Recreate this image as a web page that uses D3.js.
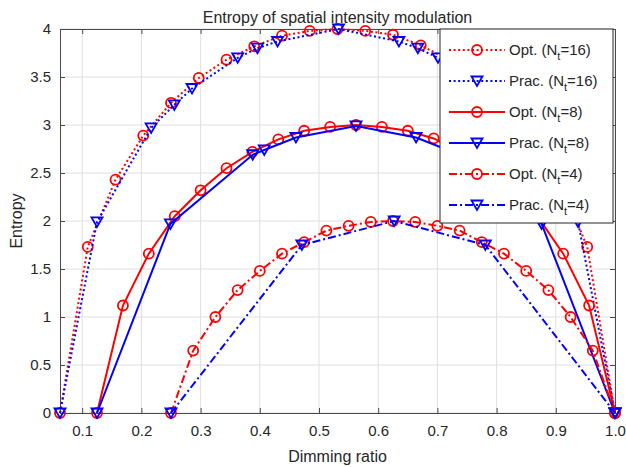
<!DOCTYPE html>
<meta charset="utf-8">
<style>
    body { margin: 0; background: #fff; }
    text { font-family: "Liberation Sans", Arial, sans-serif; fill: #262626; }
</style>
<body>
<script src="https://d3js.org/d3.v7.min.js"></script>
<svg width="626" height="467"></svg>
<script>
    // data
    var opt16X = [0.0625, 0.1094, 0.1563, 0.2031, 0.25, 0.2969, 0.3438, 0.3906, 0.4375, 0.4844, 0.5313,
                  0.5781, 0.625, 0.6719, 0.7188, 0.7656, 0.8125, 0.8594, 0.9063, 0.9531, 1.0];
    var opt16Y = [0, 1.73, 2.43, 2.89, 3.23, 3.49, 3.68, 3.82, 3.93, 3.98, 4.0,
                  3.98, 3.94, 3.83, 3.68, 3.49, 3.23, 2.89, 2.43, 1.73, 0];
    var prac16X = [0.0625, 0.125, 0.2164, 0.2556, 0.2855, 0.3626, 0.396, 0.43, 0.533,
                   0.635, 0.667, 0.701, 0.778, 0.808, 0.847, 0.9375, 1.0];
    var prac16Y = [0, 1.99, 2.97, 3.21, 3.38, 3.70, 3.80, 3.87, 4.0,
                   3.87, 3.80, 3.70, 3.38, 3.21, 2.97, 1.99, 0];
    var opt8X = [0.125, 0.1688, 0.2125, 0.2563, 0.3, 0.3438, 0.3875, 0.4313, 0.475, 0.5188, 0.5625,
                 0.6063, 0.65, 0.6938, 0.7375, 0.7813, 0.825, 0.8688, 0.9125, 0.9563, 1.0];
    var opt8Y = [0, 1.12, 1.66, 2.05, 2.32, 2.55, 2.72, 2.85, 2.94, 2.98, 3.0,
                 2.98, 2.94, 2.86, 2.72, 2.55, 2.32, 2.05, 1.66, 1.12, 0];
    var prac8X = [0.125, 0.249, 0.388, 0.4075, 0.461, 0.5625, 0.664, 0.7175, 0.737, 0.876, 1.0];
    var prac8Y = [0, 1.97, 2.69, 2.74, 2.87, 2.99, 2.87, 2.74, 2.69, 1.97, 0];
    var opt4X = [0.25, 0.2875, 0.325, 0.3625, 0.4, 0.4375, 0.475, 0.5125, 0.55, 0.5875, 0.625,
                 0.6625, 0.7, 0.7375, 0.775, 0.8125, 0.85, 0.8875, 0.925, 0.9625, 1.0];
    var opt4Y = [0, 0.65, 1.0, 1.28, 1.48, 1.66, 1.78, 1.9, 1.95, 1.99, 2.0,
                 1.99, 1.95, 1.9, 1.78, 1.66, 1.48, 1.28, 1.0, 0.65, 0];
    var prac4X = [0.25, 0.471, 0.627, 0.781, 1.0];
    var prac4Y = [0, 1.75, 2.0, 1.75, 0];

    var xTicks = [0.1, 0.2, 0.3, 0.4, 0.5, 0.6, 0.7, 0.8, 0.9, 1.0];
    var yTicks = [0, 0.5, 1, 1.5, 2, 2.5, 3, 3.5, 4];

    var series = [
        { name: "Opt.", nt: "16", xs: opt16X, ys: opt16Y, color: "#ff0000", dash: "2,2.6", marker: "o" },
        { name: "Prac.", nt: "16", xs: prac16X, ys: prac16Y, color: "#0000ff", dash: "2,2.6", marker: "v" },
        { name: "Opt.", nt: "8", xs: opt8X, ys: opt8Y, color: "#ff0000", dash: null, marker: "o" },
        { name: "Prac.", nt: "8", xs: prac8X, ys: prac8Y, color: "#0000ff", dash: null, marker: "v" },
        { name: "Opt.", nt: "4", xs: opt4X, ys: opt4Y, color: "#ff0000", dash: "8,3,2,3", marker: "o" },
        { name: "Prac.", nt: "4", xs: prac4X, ys: prac4Y, color: "#0000ff", dash: "8,3,2,3", marker: "v" }
    ];

    var svg = d3.select("svg");
    var pLeft = 60, pRight = 615, pTop = 29, pBottom = 413;

    var x = d3.scaleLinear().domain([0.0625, 1.0]).range([pLeft, pRight]);
    var y = d3.scaleLinear().domain([0, 4]).range([pBottom, pTop]);

    // grid
    svg.append("g").selectAll("line").data(xTicks).enter().append("line")
        .attr("x1", d => x(d)).attr("x2", d => x(d))
        .attr("y1", pTop).attr("y2", pBottom)
        .attr("stroke", "#dfdfdf").attr("stroke-width", 1);
    svg.append("g").selectAll("line").data(yTicks).enter().append("line")
        .attr("x1", pLeft).attr("x2", pRight)
        .attr("y1", d => y(d)).attr("y2", d => y(d))
        .attr("stroke", "#dfdfdf").attr("stroke-width", 1);

    // axes (MATLAB box: ticks inward on all sides)
    var fmtX = d3.format(".1f");
    svg.append("g").attr("transform", "translate(0," + pBottom + ")")
        .call(d3.axisBottom(x).tickValues(xTicks).tickSize(-5).tickPadding(12).tickFormat(fmtX));
    svg.append("g").attr("transform", "translate(0," + pTop + ")")
        .call(d3.axisTop(x).tickValues(xTicks).tickSize(-5).tickFormat(""));
    svg.append("g").attr("transform", "translate(" + pLeft + ",0)")
        .call(d3.axisLeft(y).tickValues(yTicks).tickSize(-5).tickPadding(9).tickFormat(d3.format("")));
    svg.append("g").attr("transform", "translate(" + pRight + ",0)")
        .call(d3.axisRight(y).tickValues(yTicks).tickSize(-5).tickFormat(""));
    svg.selectAll(".domain").attr("stroke", "#4a4a4a");
    svg.selectAll(".tick line").attr("stroke", "#4a4a4a");
    svg.selectAll(".tick text")
        .attr("font-family", null).attr("font-size", null)
        .style("font-size", "15px").attr("fill", "#262626");

    var triPath = "M-5.5,-4.5L5.5,-4.5L0,5Z";

    function drawMarkers(g, pts, s, sw) {
        if (s.marker === "o") {
            g.selectAll("circle").data(pts).enter().append("circle")
                .attr("cx", d => d[0]).attr("cy", d => d[1]).attr("r", 5)
                .attr("fill", "none").attr("stroke", s.color).attr("stroke-width", sw);
        } else {
            g.selectAll("path.mk").data(pts).enter().append("path").attr("class", "mk")
                .attr("d", triPath)
                .attr("transform", d => "translate(" + d[0] + "," + d[1] + ")")
                .attr("fill", "none").attr("stroke", s.color).attr("stroke-width", sw);
        }
    }

    var line = d3.line();
    series.forEach(function(s) {
        var pts = s.xs.map((v, i) => [x(v), y(s.ys[i])]);
        var g = svg.append("g");
        g.append("path").attr("d", line(pts))
            .attr("fill", "none").attr("stroke", s.color).attr("stroke-width", 2)
            .attr("stroke-dasharray", s.dash);
        drawMarkers(g, pts, s, 1.8);
    });

    // legend
    var lg = svg.append("g");
    lg.append("rect").attr("x", 440).attr("y", 29).attr("width", 173).attr("height", 194)
        .attr("fill", "#fff").attr("stroke", "#262626").attr("stroke-width", 1);
    var rowY = [50, 81, 112, 143, 174, 205];
    series.forEach(function(s, i) {
        var cy = rowY[i];
        lg.append("line").attr("x1", 449).attr("x2", 505).attr("y1", cy).attr("y2", cy)
            .attr("stroke", s.color).attr("stroke-width", 2).attr("stroke-dasharray", s.dash);
        drawMarkers(lg.append("g"), [[477, cy]], s, 1.8);
        var t = lg.append("text").attr("x", 509).attr("y", cy + 5).style("font-size", "15px");
        t.append("tspan").text(s.name + " (N");
        t.append("tspan").attr("dy", 5).style("font-size", "11px").text("t");
        t.append("tspan").attr("dy", -5).text("=" + s.nt + ")");
    });

    // labels
    svg.append("text").attr("x", 337.5).attr("y", 23).attr("text-anchor", "middle")
        .style("font-size", "16px").text("Entropy of spatial intensity modulation");
    svg.append("text").attr("x", 337.5).attr("y", 462).attr("text-anchor", "middle")
        .style("font-size", "16px").text("Dimming ratio");
    svg.append("text").attr("transform", "translate(22,221)rotate(-90)").attr("text-anchor", "middle")
        .style("font-size", "16px").text("Entropy");
</script>
</body>
